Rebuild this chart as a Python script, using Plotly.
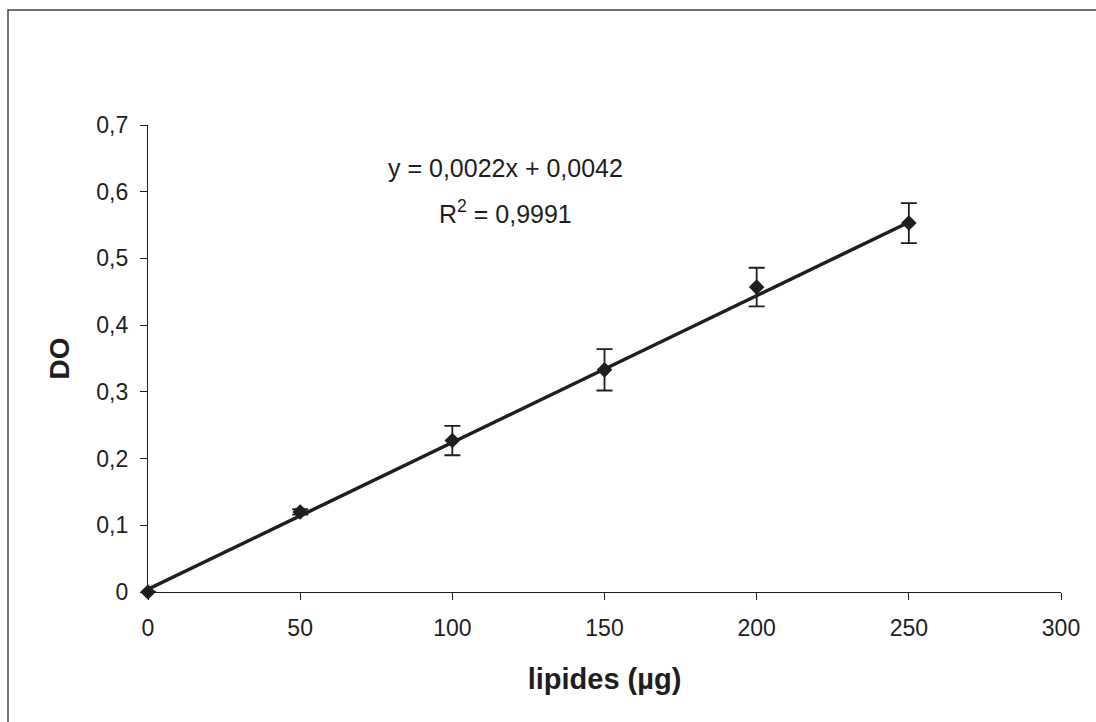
import plotly.graph_objects as go

lipides = [0, 50, 100, 150, 200, 250]
do_vals = [0.0, 0.120, 0.227, 0.333, 0.457, 0.553]
do_err = [0.0, 0.004, 0.022, 0.031, 0.029, 0.030]
slope = 0.0022
intercept = 0.0042
x_ticks = [0, 50, 100, 150, 200, 250, 300]
y_ticks = [0, 0.1, 0.2, 0.3, 0.4, 0.5, 0.6, 0.7]
y_tick_text = ["0", "0,1", "0,2", "0,3", "0,4", "0,5", "0,6", "0,7"]

ink = "#1e1e1e"
font = "Liberation Sans, Arial, sans-serif"

fig = go.Figure()
fig.add_trace(go.Scatter(
    x=[lipides[0], lipides[-1]],
    y=[slope * lipides[0] + intercept, slope * lipides[-1] + intercept],
    mode="lines", line=dict(color=ink, width=3.5), showlegend=False, hoverinfo="skip"))
fig.add_trace(go.Scatter(
    x=lipides, y=do_vals, mode="markers", cliponaxis=False,
    marker=dict(symbol="diamond", size=12, color=ink),
    error_y=dict(type="data", array=do_err, visible=True, color=ink, thickness=1.8, width=8),
    showlegend=False))

fig.add_annotation(x=(505 - 148) / 913, y=1.0, xref="paper", yref="paper", showarrow=False,
                   text="y = 0,0022x + 0,0042", font=dict(family=font, size=25, color=ink),
                   xanchor="center", yanchor="middle", yshift=-43)
fig.add_annotation(x=(505 - 148) / 913, y=1.0, xref="paper", yref="paper", showarrow=False,
                   text="R<sup>2</sup> = 0,9991", font=dict(family=font, size=25, color=ink),
                   xanchor="center", yanchor="middle", yshift=-87)

# outer frame (left and top edges visible, right/bottom beyond the picture)
fig.add_shape(type="rect", xref="paper", yref="paper",
              x0=-140 / 913, x1=1.1, y0=-140 / 467, y1=1 + 115 / 467,
              line=dict(color="#444", width=1.5))

fig.update_layout(
    width=1096, height=722,
    margin=dict(l=148, r=35, t=125, b=130),
    paper_bgcolor="white", plot_bgcolor="white",
    font=dict(family=font, size=23, color=ink),
    xaxis=dict(range=[0, 300], tickvals=x_ticks, showgrid=False, zeroline=False,
               showline=True, linecolor=ink, linewidth=1.2, ticks="outside", ticklen=7,
               tickcolor=ink, tickfont=dict(size=23), ticklabelstandoff=8,
               title=dict(text="<b>lipides (µg)</b>", font=dict(size=29), standoff=28)),
    yaxis=dict(range=[0, 0.7], tickvals=y_ticks, ticktext=y_tick_text, showgrid=False,
               zeroline=False, showline=True, linecolor=ink, linewidth=1.2, ticks="outside",
               ticklen=7, tickcolor=ink, tickfont=dict(size=23), ticklabelstandoff=7,
               title=dict(text="<b>DO</b>", font=dict(size=28), standoff=18)),
)
fig.write_html("out.html")
